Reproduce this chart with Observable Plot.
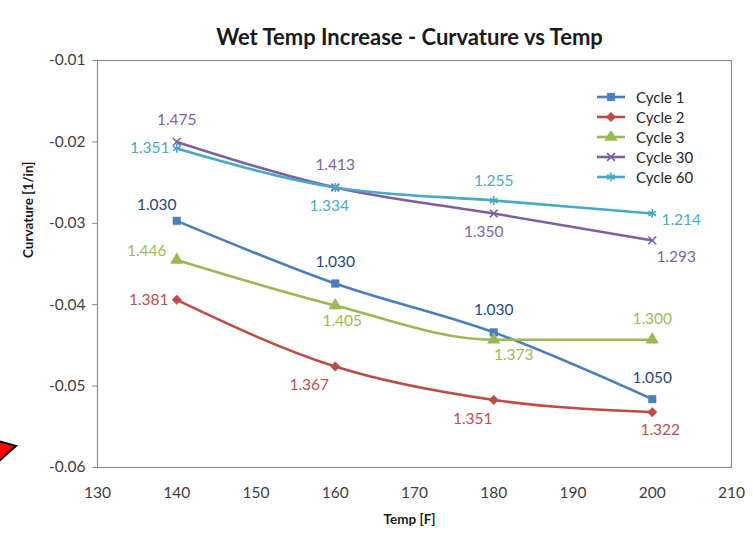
<!DOCTYPE html>
<html>
<head>
<meta charset="utf-8">
<script src="https://cdn.jsdelivr.net/npm/d3@7"></script>
<script src="https://cdn.jsdelivr.net/npm/@observablehq/plot@0.6"></script>
<style>
  html, body { margin: 0; padding: 0; background: #fff; }
  #wrap { position: relative; width: 753px; height: 533px; font-family: Lato, "Open Sans", sans-serif; }
  #legend { position: absolute; left: 596px; top: 87px; font-size: 15px; color: #262626; }
  #legend .row { display: flex; align-items: center; height: 20px; }
  #legend svg { margin-right: 10px; }
  #deco { position: absolute; left: 0; top: 436px; }
</style>
</head>
<body>
<div id="wrap"></div>
<script>
// ---- data ----
const temps = [140, 160, 180, 200];
const seriesNames = ["Cycle 1", "Cycle 2", "Cycle 3", "Cycle 30", "Cycle 60"];
const cycle1 = [-0.0297, -0.0374, -0.0434, -0.0516];
const cycle2 = [-0.0394, -0.0476, -0.0517, -0.0532];
const cycle3 = [-0.0345, -0.0401, -0.0443, -0.0443];
const cycle30 = [-0.0200, -0.0256, -0.0288, -0.0321];
const cycle60 = [-0.0208, -0.0256, -0.0272, -0.0288];
const labels1 = ["1.030", "1.030", "1.030", "1.050"];
const labels2 = ["1.381", "1.367", "1.351", "1.322"];
const labels3 = ["1.446", "1.405", "1.373", "1.300"];
const labels30 = ["1.475", "1.413", "1.350", "1.293"];
const labels60 = ["1.351", "1.334", "1.255", "1.214"];
const xTicks = [130, 140, 150, 160, 170, 180, 190, 200, 210];
const yTicks = [-0.06, -0.05, -0.04, -0.03, -0.02, -0.01];

// ---- styles (not data) ----
const lineColors = ["#4A7EBB", "#BE4B48", "#98B954", "#7D60A0", "#46AAC5"];
const labelColors = ["#1F497D", "#C0504D", "#9BBB59", "#8064A2", "#4BACC6"];
const symbols = ["square", "diamond2", "triangle", "times", "asterisk"];
const symbolFilled = [true, true, true, false, false];
const symbolR = [4.3, 4.3, 4.6, 3.6, 4.2];
// label offsets [dx, dy] per series per point
const labelOffsets = [
  [[-20, -16], [0, -22], [0, -22], [0, -21]],
  [[-28, 0], [-26, 18], [-21, 19], [8, 18]],
  [[-30, -9], [7, 16], [20, 15], [0, -21]],
  [[0, -22], [0, -22], [-10, 18], [24, 17]],
  [[-27, 0], [-6, 19], [0, -19], [29, 6]]
];

const values = [cycle1, cycle2, cycle3, cycle30, cycle60];
const labels = [labels1, labels2, labels3, labels30, labels60];

const rows = [];
seriesNames.forEach((s, i) => {
  temps.forEach((t, j) => {
    rows.push({series: s, si: i, pj: j, temp: t, value: values[i][j], label: labels[i][j]});
  });
});

const marks = [
  Plot.frame({stroke: "#8c8c8c", strokeWidth: 1.2}),
  Plot.axisY({ticks: yTicks, tickFormat: d => d.toFixed(2), tickSize: 5, tickPadding: 7,
    label: null, fontSize: 15.5, color: "#404040", stroke: "#8c8c8c"}),
  Plot.axisX({ticks: xTicks, tickFormat: d => String(d), tickSize: 0, tickPadding: 19,
    label: null, fontSize: 15.5, color: "#404040"}),
  Plot.text(["Wet Temp Increase - Curvature vs Temp"], {frameAnchor: "top", dy: -31, dx: -5,
    fontSize: 22, fontWeight: "bold", fill: "#1a1a1a"}),
  Plot.text(["Curvature [1/in]"], {frameAnchor: "left", dx: -69, dy: -6, rotate: -90,
    fontSize: 13.5, fontWeight: "bold", fill: "#1a1a1a"}),
  Plot.text(["Temp [F]"], {frameAnchor: "bottom", dy: 56, dx: -5,
    fontSize: 13.5, fontWeight: "bold", fill: "#1a1a1a"})
];

seriesNames.forEach((s, i) => {
  const data = rows.filter(d => d.si === i);
  marks.push(Plot.line(data, {x: "temp", y: "value", stroke: lineColors[i], strokeWidth: 2.6, curve: "monotone-x"}));
  marks.push(Plot.dot(data, {x: "temp", y: "value", symbol: () => symbols[i], r: symbolR[i],
    fill: symbolFilled[i] ? lineColors[i] : "none",
    stroke: lineColors[i], strokeWidth: symbolFilled[i] ? 0.5 : 1.6}));
  data.forEach((d, j) => {
    marks.push(Plot.text([d], {x: "temp", y: "value", text: "label",
      dx: labelOffsets[i][j][0], dy: labelOffsets[i][j][1],
      fill: labelColors[i], fontSize: 15.5}));
  });
});

const chart = Plot.plot({
  width: 753, height: 533,
  marginLeft: 97, marginRight: 22, marginTop: 60, marginBottom: 66,
  style: {fontFamily: "Lato, 'Open Sans', sans-serif", background: "#fff"},
  x: {domain: [130, 210]},
  y: {domain: [-0.06, -0.01]},
  symbol: {type: "identity"},
  marks
});
const wrap = document.getElementById("wrap");
wrap.appendChild(chart);

// legend
const legend = document.createElement("div");
legend.id = "legend";
const symMap = {square: d3.symbolSquare, diamond2: d3.symbolDiamond2, triangle: d3.symbolTriangle, times: d3.symbolTimes, asterisk: d3.symbolAsterisk};
seriesNames.forEach((s, i) => {
  const row = document.createElement("div");
  row.className = "row";
  const svg = d3.create("svg").attr("width", 30).attr("height", 12);
  svg.append("line").attr("x1", 1).attr("x2", 29).attr("y1", 6).attr("y2", 6)
    .attr("stroke", lineColors[i]).attr("stroke-width", 2.6);
  const area = Math.PI * symbolR[i] * symbolR[i];
  svg.append("path").attr("transform", "translate(15,6)")
    .attr("d", d3.symbol(symMap[symbols[i]], area)())
    .attr("fill", symbolFilled[i] ? lineColors[i] : "none")
    .attr("stroke", lineColors[i]).attr("stroke-width", symbolFilled[i] ? 0.5 : 1.6);
  row.appendChild(svg.node());
  const span = document.createElement("span");
  span.textContent = s;
  row.appendChild(span);
  legend.appendChild(row);
});
wrap.appendChild(legend);

// decorative cropped red arrow at bottom-left edge (from the source screenshot)
const deco = d3.create("svg").attr("id", "deco").attr("width", 20).attr("height", 30);
deco.append("path").attr("d", "M-2,5 L16,10 L-2,26 Z")
  .attr("fill", "#ff0000").attr("stroke", "#000").attr("stroke-width", 2);
wrap.appendChild(deco.node());
</script>
</body>
</html>
